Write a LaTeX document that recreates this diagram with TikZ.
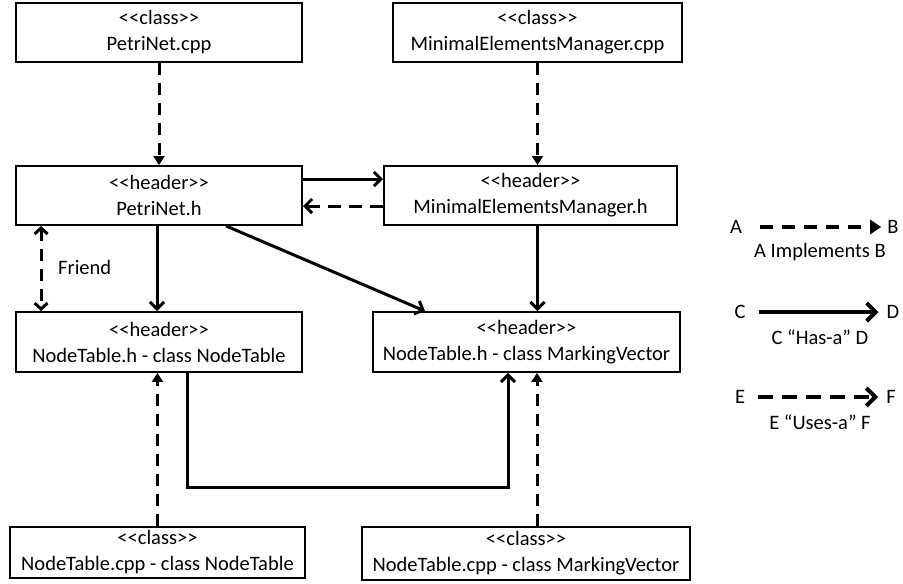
\documentclass[tikz,border=0pt]{standalone}
\usepackage{fontspec}
\setmainfont{Carlito}
\usetikzlibrary{arrows.meta}
\begin{document}
\begin{tikzpicture}[x=1pt,y=-1pt,
  box/.style={draw,line width=1.9pt,inner sep=0pt,align=center,font=\fontsize{20.5}{26}\selectfont},
  lbl/.style={inner sep=0pt,font=\fontsize{20.5}{26}\selectfont},
  impl/.style={line width=3pt,dash pattern=on 12pt off 8pt,-{Triangle[length=9pt,width=11pt]}},
  has/.style={line width=3pt,-{Straight Barb[length=7pt,width=14pt,line width=3pt]}},
  uses/.style={line width=3pt,dash pattern=on 13pt off 8pt,-{Straight Barb[length=7pt,width=14pt,line width=3pt]}},
  friend/.style={line width=3pt,dash pattern=on 12pt off 8pt,{Straight Barb[length=6pt,width=13pt,line width=3pt]}-{Straight Barb[length=6pt,width=13pt,line width=3pt]}}]
\useasboundingbox (0,0) rectangle (903,584);
\node[box,minimum width=286pt,minimum height=59pt] (pcpp) at (159,32.5) {<{}<class>{}>\\PetriNet.cpp};
\node[box,minimum width=289pt,minimum height=59pt] (mcpp) at (537.5,32.5) {<{}<class>{}>\\MinimalElementsManager.cpp};
\node[box,minimum width=286pt,minimum height=59pt] (ph) at (159,195.5) {<{}<header>{}>\\PetriNet.h};
\node[box,minimum width=293pt,minimum height=59pt] (mh) at (530.5,195.5) {<{}<header>{}>\\MinimalElementsManager.h};
\node[box,minimum width=286pt,minimum height=60pt] (nth) at (159,342) {<{}<header>{}>\\NodeTable.h - class NodeTable};
\node[box,minimum width=307pt,minimum height=60pt] (mvh) at (526.5,342) {<{}<header>{}>\\NodeTable.h - class MarkingVector};
\node[box,minimum width=295pt,minimum height=51pt] (ntc) at (157.5,552.5) {<{}<class>{}>\\NodeTable.cpp - class NodeTable};
\node[box,minimum width=328pt,minimum height=53pt] (mvc) at (526,553.5) {<{}<class>{}>\\NodeTable.cpp - class MarkingVector};
% connectors
\draw[impl] (pcpp.south) -- (ph.north);
\draw[impl] (mcpp.south) -- (mcpp.south |- mh.north);
\draw[has] ([yshift=-14pt]ph.north east) -- ([yshift=-14pt]mh.north west);
\draw[uses] ([yshift=-41pt]mh.north west) -- ([yshift=-41pt]ph.north east);
\draw[friend] ([xshift=26pt]ph.south west) -- ([xshift=26pt]nth.north west);
\node[lbl,anchor=west] (fr) at (58,267) {Friend};
\draw[has] ([xshift=-2pt]ph.south) -- ([xshift=-2pt]nth.north);
\draw[has] ([xshift=67pt]ph.south) -- ([xshift=-101.5pt]mvh.north);
\draw[has] (mh.south -| mcpp.south) -- (mvh.north -| mcpp.south);
\draw[has] ([xshift=28pt]nth.south) -- ++(0,115) -| ([xshift=-18.5pt]mvh.south);
\draw[impl] (ntc.north) -- (ntc.north |- nth.south);
\draw[impl] ([xshift=11pt]mvc.north) -- ([xshift=11pt]mvc.north |- mvh.south);
% legend
\node[lbl] (la) at (736,227) {A};
\node[lbl] (lb) at (893,227) {B};
\draw[impl,line width=4pt,dash pattern=on 13pt off 9pt,-{Triangle[length=11pt,width=14pt]}] ([xshift=18pt]la.east) -- ([xshift=-6pt]lb.west);
\node[lbl] (lab) at (820,252) {A Implements B};
\node[lbl] (lc) at (740,312) {C};
\node[lbl] (ld) at (893,312) {D};
\draw[line width=4pt,-{Straight Barb[length=9pt,width=18pt,line width=4pt]}] ([xshift=13pt]lc.east) -- ([xshift=-8pt]ld.west);
\node[lbl] (lcd) at (820,337) {C “Has-a” D};
\node[lbl] (le) at (740,397) {E};
\node[lbl] (lf) at (891,397) {F};
\draw[line width=4pt,dash pattern=on 15pt off 9pt,-{Straight Barb[length=9pt,width=18pt,line width=4pt]}] ([xshift=13pt]le.east) -- ([xshift=-8pt]lf.west);
\node[lbl] (lef) at (820,422) {E “Uses-a” F};
\end{tikzpicture}
\end{document}
